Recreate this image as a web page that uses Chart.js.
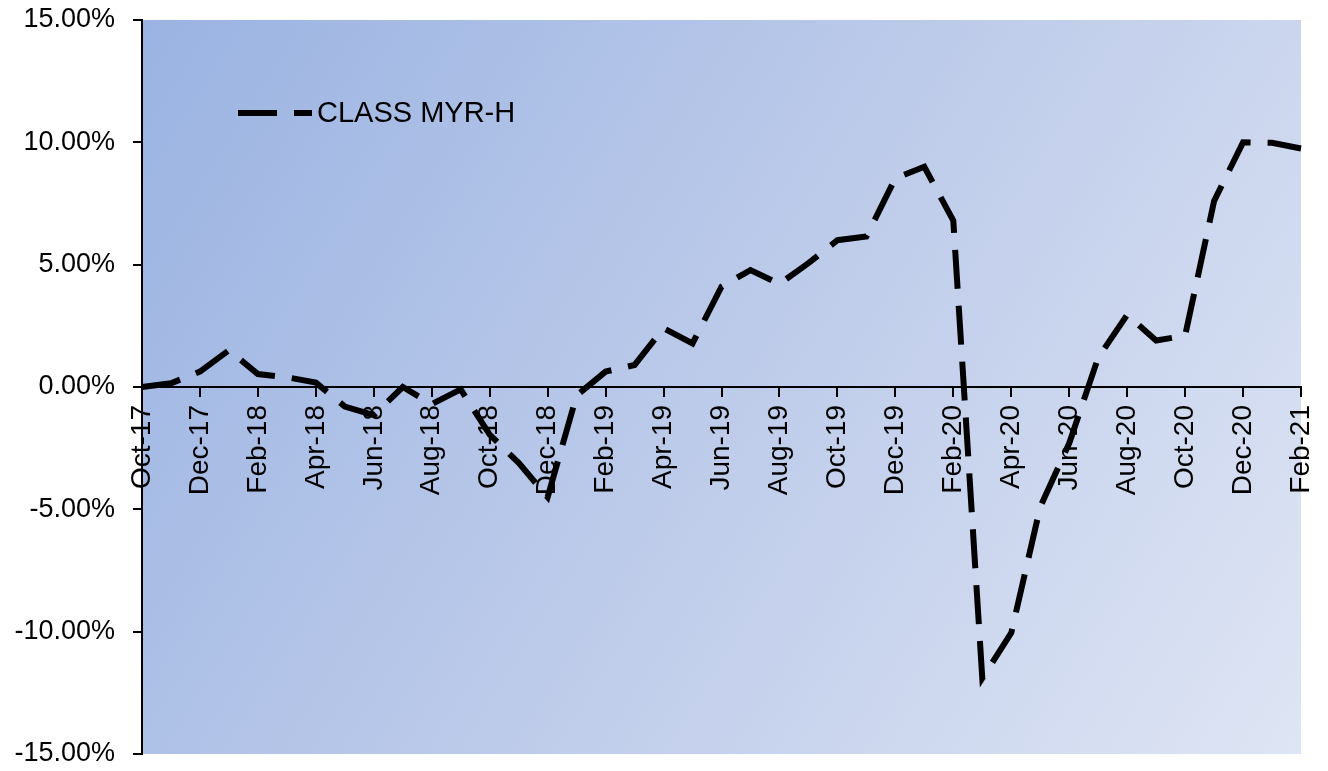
<!DOCTYPE html>
<html>
<head>
<meta charset="utf-8">
<title>CLASS MYR-H</title>
<script src="https://cdn.jsdelivr.net/npm/chart.js@4/dist/chart.umd.min.js"></script>
<style>
  html, body { margin: 0; padding: 0; background: #ffffff; }
  #wrap { width: 1328px; height: 771px; }
</style>
</head>
<body>
<div id="wrap"><canvas id="chart" width="1328" height="771"></canvas></div>
<script>
// Monthly return series, Oct-17 .. Feb-21
const months = [
  'Oct-17','Nov-17','Dec-17','Jan-18','Feb-18','Mar-18','Apr-18','May-18','Jun-18','Jul-18',
  'Aug-18','Sep-18','Oct-18','Nov-18','Dec-18','Jan-19','Feb-19','Mar-19','Apr-19','May-19',
  'Jun-19','Jul-19','Aug-19','Sep-19','Oct-19','Nov-19','Dec-19','Jan-20','Feb-20','Mar-20',
  'Apr-20','May-20','Jun-20','Jul-20','Aug-20','Sep-20','Oct-20','Nov-20','Dec-20','Jan-21',
  'Feb-21'
];

// Cumulative return, in percent
const classMyrH = [
  0.00, 0.15, 0.63, 1.50, 0.53, 0.40, 0.18, -0.80, -1.15, 0.00,
  -0.70, -0.10, -1.95, -3.10, -4.50, -0.35, 0.63, 0.90, 2.40, 1.78,
  4.10, 4.78, 4.21, 5.06, 6.00, 6.15, 8.53, 9.00, 6.80, -11.90,
  -10.05, -4.90, -2.30, 1.20, 2.95, 1.90, 2.10, 7.60, 10.00, 9.98,
  9.75
];

const seriesName = 'CLASS MYR-H';
const yTicks = [-15, -10, -5, 0, 5, 10, 15];

const FAMILY = '"Liberation Sans", Arial, sans-serif';
const X_FONT = { family: FAMILY, size: 28 };
const Y_FONT = { family: FAMILY, size: 27 };
const LEGEND_SIZE = 29;
const DASH = [39, 17];

// Diagonal blue gradient behind the plot area
const plotBackground = {
  id: 'plotBackground',
  beforeDraw(chart) {
    const { ctx, chartArea: a } = chart;
    const g = ctx.createLinearGradient(a.left, a.top, a.right, a.bottom);
    g.addColorStop(0, '#9ab3e2');
    g.addColorStop(0.5, '#bdcbea');
    g.addColorStop(1, '#dee5f4');
    ctx.save();
    ctx.fillStyle = g;
    ctx.fillRect(a.left, a.top, a.right - a.left, a.bottom - a.top);
    ctx.restore();
  }
};

// Legend drawn inside the plot area, top left
const insideLegend = {
  id: 'insideLegend',
  afterDatasetsDraw(chart) {
    const { ctx } = chart;
    const ds = chart.data.datasets[0];
    const y = 113;
    ctx.save();
    ctx.strokeStyle = ds.borderColor;
    ctx.lineWidth = ds.borderWidth;
    ctx.lineCap = 'butt';
    ctx.setLineDash(DASH);
    ctx.beginPath();
    ctx.moveTo(238, y);
    ctx.lineTo(312, y);
    ctx.stroke();
    ctx.setLineDash([]);
    ctx.fillStyle = '#000000';
    ctx.font = LEGEND_SIZE + 'px ' + FAMILY;
    ctx.textAlign = 'left';
    ctx.textBaseline = 'middle';
    ctx.fillText(ds.label, 317, y + 1);
    ctx.restore();
  }
};

new Chart(document.getElementById('chart'), {
  type: 'line',
  data: {
    labels: months,
    datasets: [{
      label: seriesName,
      data: classMyrH,
      borderColor: '#000000',
      borderWidth: 6,
      borderDash: DASH,
      borderCapStyle: 'butt',
      borderJoinStyle: 'miter',
      pointRadius: 0,
      tension: 0,
      fill: false,
      clip: false
    }]
  },
  options: {
    responsive: false,
    devicePixelRatio: 1,
    animation: false,
    layout: { padding: { left: 0, top: 20, right: 27, bottom: 17 } },
    plugins: {
      legend: { display: false },
      tooltip: { enabled: false }
    },
    scales: {
      x: {
        type: 'category',
        position: { y: 0 },
        offset: false,
        afterFit: (s) => { s.paddingLeft = 0; s.paddingRight = 0; s.paddingTop = 0; s.paddingBottom = 0; },
        grid: {
          drawOnChartArea: false,
          drawTicks: true,
          tickLength: 9,
          lineWidth: 2,
          tickColor: (c) => (c.index % 2 === 0 ? '#000000' : 'rgba(0,0,0,0)')
        },
        border: { display: true, color: '#000000', width: 2 },
        ticks: {
          autoSkip: false,
          minRotation: 90,
          maxRotation: 90,
          padding: 9,
          color: '#000000',
          font: X_FONT,
          callback: (v, i) => (i % 2 === 0 ? months[i] : '')
        }
      },
      y: {
        type: 'linear',
        position: 'left',
        min: -15,
        max: 15,
        afterFit: (s) => { s.width = 142; s.paddingTop = 0; s.paddingBottom = 0; s.paddingLeft = 0; s.paddingRight = 0; },
        afterBuildTicks: (s) => { s.ticks = yTicks.map(v => ({ value: v })); },
        grid: {
          drawOnChartArea: false,
          drawTicks: true,
          tickLength: 9,
          lineWidth: 2,
          color: '#000000'
        },
        border: { display: true, color: '#000000', width: 2 },
        ticks: {
          padding: 18,
          color: '#000000',
          font: Y_FONT,
          callback: (v) => v.toFixed(2) + '%'
        }
      }
    }
  },
  plugins: [plotBackground, insideLegend]
});
</script>
</body>
</html>
